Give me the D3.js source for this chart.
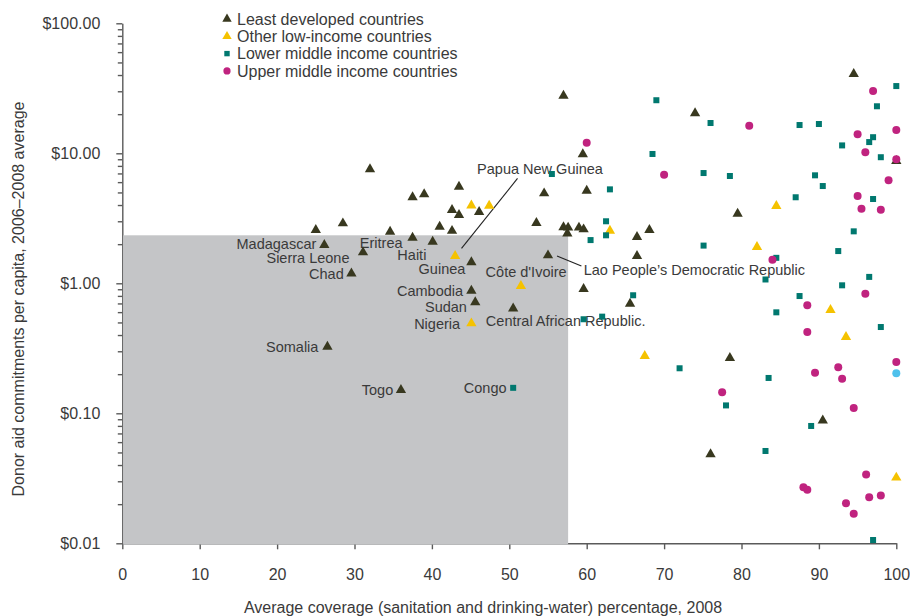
<!DOCTYPE html>
<html>
<head>
<meta charset="utf-8">
<script src="https://cdn.jsdelivr.net/npm/d3@7"></script>
<style>
  body { margin: 0; background: #fff; }
  svg { display: block; }
  text { font-family: "Liberation Sans", Arial, Helvetica, sans-serif; fill: #3a3a3a; }
</style>
</head>
<body>
<svg id="chart" width="910" height="616"></svg>
<script>
// Average sanitation / drinking-water coverage (%, 2008) against
// donor aid commitments per capita (US$, 2006–2008 average).

const seriesNames = [
  "Least developed countries",
  "Other low-income countries",
  "Lower middle income countries",
  "Upper middle income countries"
];

const leastDeveloped = [
  { coverage: 26.1, aid: 1.97, name: "Madagascar" },
  { coverage: 31.1, aid: 1.73, name: "Sierra Leone" },
  { coverage: 29.6, aid: 1.19, name: "Chad" },
  { coverage: 37.5, aid: 2.24, name: "Eritrea" },
  { coverage: 40.1, aid: 2.09, name: "Haiti" },
  { coverage: 45.1, aid: 1.45, name: "Guinea" },
  { coverage: 45.1, aid: 0.877, name: "Cambodia" },
  { coverage: 45.6, aid: 0.714, name: "Sudan" },
  { coverage: 50.5, aid: 0.64, name: "Central African Republic." },
  { coverage: 26.5, aid: 0.325, name: "Somalia" },
  { coverage: 36.0, aid: 0.151, name: "Togo" },
  { coverage: 55.0, aid: 1.64, name: "Lao People’s Democratic Republic" },
  { coverage: 25.0, aid: 2.57 }, { coverage: 28.5, aid: 2.89 },
  { coverage: 32.0, aid: 7.53 }, { coverage: 34.6, aid: 2.49 },
  { coverage: 37.5, aid: 4.59 }, { coverage: 39.0, aid: 4.84 },
  { coverage: 41.0, aid: 2.72 }, { coverage: 42.6, aid: 2.53 },
  { coverage: 42.6, aid: 3.66 }, { coverage: 43.5, aid: 3.35 },
  { coverage: 43.5, aid: 5.53 }, { coverage: 46.1, aid: 3.54 },
  { coverage: 53.5, aid: 2.91 }, { coverage: 54.5, aid: 4.92 },
  { coverage: 57.0, aid: 27.7 }, { coverage: 57.0, aid: 2.70 },
  { coverage: 57.6, aid: 2.68 }, { coverage: 57.5, aid: 2.42 },
  { coverage: 59.0, aid: 2.68 }, { coverage: 59.6, aid: 2.60 },
  { coverage: 59.5, aid: 9.82 }, { coverage: 60.0, aid: 5.16 },
  { coverage: 59.6, aid: 0.904 }, { coverage: 65.6, aid: 0.697 },
  { coverage: 66.5, aid: 2.27 }, { coverage: 68.1, aid: 2.57 },
  { coverage: 66.5, aid: 1.62 }, { coverage: 74.0, aid: 20.3 },
  { coverage: 79.5, aid: 3.43 }, { coverage: 76.0, aid: 0.0484 },
  { coverage: 78.5, aid: 0.266 }, { coverage: 90.5, aid: 0.088 },
  { coverage: 94.5, aid: 40.7 }, { coverage: 100, aid: 8.73 }
];

const otherLowIncome = [
  { coverage: 43.0, aid: 1.62, name: "Papua New Guinea" },
  { coverage: 51.5, aid: 0.953, name: "Côte d'Ivoire" },
  { coverage: 45.1, aid: 0.492, name: "Nigeria" },
  { coverage: 45.1, aid: 3.97 }, { coverage: 47.4, aid: 3.95 },
  { coverage: 63.0, aid: 2.54 }, { coverage: 67.5, aid: 0.276 },
  { coverage: 82.0, aid: 1.90 }, { coverage: 84.5, aid: 3.93 },
  { coverage: 91.5, aid: 0.623 }, { coverage: 93.5, aid: 0.386 },
  { coverage: 100, aid: 0.032 }
];

const lowerMiddleIncome = [
  { coverage: 50.5, aid: 0.157, name: "Congo" },
  { coverage: 55.5, aid: 6.93 }, { coverage: 59.6, aid: 0.529 },
  { coverage: 62.0, aid: 0.554 }, { coverage: 60.5, aid: 2.15 },
  { coverage: 62.5, aid: 3.0 }, { coverage: 62.5, aid: 2.34 },
  { coverage: 63.0, aid: 5.28 }, { coverage: 66.0, aid: 0.809 },
  { coverage: 68.5, aid: 9.88 }, { coverage: 69.0, aid: 25.6 },
  { coverage: 72.0, aid: 0.222 }, { coverage: 75.1, aid: 7.05 },
  { coverage: 75.1, aid: 1.95 }, { coverage: 76.0, aid: 17.1 },
  { coverage: 78.0, aid: 0.115 }, { coverage: 78.5, aid: 6.69 },
  { coverage: 83.1, aid: 1.07 }, { coverage: 83.5, aid: 0.187 },
  { coverage: 83.1, aid: 0.0513 }, { coverage: 84.5, aid: 1.57 },
  { coverage: 84.5, aid: 0.598 }, { coverage: 87.0, aid: 4.59 },
  { coverage: 87.5, aid: 16.5 }, { coverage: 87.5, aid: 0.798 },
  { coverage: 89.0, aid: 0.0799 }, { coverage: 89.5, aid: 6.77 },
  { coverage: 90.0, aid: 16.8 }, { coverage: 90.5, aid: 5.6 },
  { coverage: 92.5, aid: 1.77 }, { coverage: 93.0, aid: 11.5 },
  { coverage: 93.0, aid: 0.965 }, { coverage: 94.5, aid: 2.51 },
  { coverage: 96.5, aid: 12.2 }, { coverage: 96.5, aid: 1.12 },
  { coverage: 97.0, aid: 13.3 }, { coverage: 97.0, aid: 4.45 },
  { coverage: 97.0, aid: 0.0106 }, { coverage: 97.5, aid: 23.0 },
  { coverage: 98.0, aid: 9.33 }, { coverage: 98.0, aid: 0.461 },
  { coverage: 100, aid: 32.9 }
];

const upperMiddleIncome = [
  { coverage: 60.0, aid: 12.05 }, { coverage: 70.0, aid: 6.85 },
  { coverage: 77.5, aid: 0.145 }, { coverage: 81.0, aid: 16.3 },
  { coverage: 84.0, aid: 1.52 }, { coverage: 88.0, aid: 0.027 },
  { coverage: 88.5, aid: 0.0258 }, { coverage: 88.5, aid: 0.677 },
  { coverage: 88.5, aid: 0.422 }, { coverage: 89.5, aid: 0.205 },
  { coverage: 92.5, aid: 0.226 }, { coverage: 93.0, aid: 0.184 },
  { coverage: 93.5, aid: 0.0203 }, { coverage: 94.5, aid: 0.110 },
  { coverage: 94.5, aid: 0.0169 }, { coverage: 95.0, aid: 14.0 },
  { coverage: 95.0, aid: 4.69 }, { coverage: 95.5, aid: 3.75 },
  { coverage: 96.0, aid: 10.2 }, { coverage: 96.0, aid: 0.832 },
  { coverage: 96.1, aid: 0.0338 }, { coverage: 96.5, aid: 0.0226 },
  { coverage: 97.0, aid: 30.2 }, { coverage: 98.0, aid: 0.0233 },
  { coverage: 98.0, aid: 3.68 }, { coverage: 99.0, aid: 6.2 },
  { coverage: 100, aid: 15.1 }, { coverage: 100, aid: 8.99 },
  { coverage: 100, aid: 0.248 }
];

const unclassified = [
  { coverage: 100, aid: 0.203 }
];

// Shaded block: below-threshold coverage and aid
const shadedCoverageMax = 57.6;
const shadedAidMax = 2.34;

const xTickValues = [0, 10, 20, 30, 40, 50, 60, 70, 80, 90, 100];
const yTickValues = [0.01, 0.1, 1, 10, 100];
const yTickLabels = ["$0.01", "$0.10", "$1.00", "$10.00", "$100.00"];

const xTitle = "Average coverage (sanitation and drinking-water) percentage, 2008";
const yTitle = "Donor aid commitments per capita, 2006–2008 average";

// ---- drawing ----
const svg = d3.select("#chart");
const colors = {
  least: "#38381f",
  otherLow: "#f5c200",
  lowerMid: "#00786f",
  upperMid: "#c0237f",
  unclassified: "#4fc1ec",
  shade: "#c4c5c7",
  axis: "#5a5a5a"
};

const x = d3.scaleLinear().domain([0, 100]).range([122.3, 896.3]);
const y = d3.scaleLog().domain([0.01, 100]).range([543.3, 23.3]);

// x axis
const gx = svg.append("g")
  .attr("transform", `translate(0,${y(0.01)})`)
  .call(d3.axisBottom(x).tickValues(xTickValues).tickSize(6).tickSizeOuter(0)
    .tickPadding(19).tickFormat(d => d));

// y axis: minor ticks then labelled major ticks
const minorTicks = y.ticks().filter(v => !yTickValues.some(m => Math.abs(m - v) < 1e-9));
const gyMinor = svg.append("g")
  .attr("transform", `translate(${x(0)},0)`)
  .call(d3.axisLeft(y).tickValues(minorTicks).tickSize(4.5).tickFormat(""));
gyMinor.select(".domain").remove();

const gy = svg.append("g")
  .attr("transform", `translate(${x(0)},0)`)
  .call(d3.axisLeft(y).tickValues(yTickValues).tickSize(6).tickSizeOuter(0)
    .tickPadding(16).tickFormat((d, i) => yTickLabels[i]));

[gx, gy, gyMinor].forEach(g => {
  g.selectAll("path, line").attr("stroke", colors.axis).attr("stroke-width", 1.4);
  g.selectAll("text").attr("font-size", 16).attr("fill", "#3a3a3a")
    .attr("font-family", "\"Liberation Sans\", Arial, sans-serif");
});

// shaded block (drawn over the x axis baseline)
svg.append("rect")
  .attr("x", x(0) + 0.8)
  .attr("y", y(shadedAidMax))
  .attr("width", x(shadedCoverageMax) - x(0) - 0.8)
  .attr("height", y(0.01) - y(shadedAidMax) + 1.2)
  .attr("fill", colors.shade);

// axis titles
svg.append("text")
  .attr("x", 483).attr("y", 613)
  .attr("text-anchor", "middle")
  .attr("font-size", 16)
  .text(xTitle);

svg.append("text")
  .attr("transform", "translate(24,299) rotate(-90)")
  .attr("text-anchor", "middle")
  .attr("font-size", 16)
  .text(yTitle);

// country labels
const labelPlacement = {
  "Madagascar": { anchor: "end", dx: -8, dy: -1.5 },
  "Sierra Leone": { anchor: "end", dx: -13.5, dy: 5.2 },
  "Chad": { anchor: "end", dx: -7.7, dy: 0.5 },
  "Eritrea": { anchor: "end", dx: -10, dy: 5 },
  "Haiti": { anchor: "end", dx: -6.3, dy: 12.6 },
  "Guinea": { anchor: "end", dx: -6, dy: 6.7 },
  "Cambodia": { anchor: "end", dx: -8.3, dy: 0 },
  "Sudan": { anchor: "end", dx: -8.3, dy: 4.4 },
  "Nigeria": { anchor: "end", dx: -11.3, dy: 0 },
  "Somalia": { anchor: "end", dx: -9, dy: 0 },
  "Togo": { anchor: "end", dx: -7.7, dy: 0 },
  "Congo": { anchor: "end", dx: -6.6, dy: 0 },
  "Côte d'Ivoire": { anchor: "start", dx: -35.3, dy: -14.3 },
  "Central African Republic.": { anchor: "start", dx: -27.3, dy: 12.5 },
  "Papua New Guinea": { anchor: "start", dx: 22, dy: -87.7, leader: [6.4, -7.7, 62.4, -77.7] },
  "Lao People’s Democratic Republic": { anchor: "start", dx: 35.7, dy: 14.7, leader: [9, 0.7, 33.4, 10.7] }
};

const named = [...leastDeveloped, ...otherLowIncome, ...lowerMiddleIncome].filter(d => d.name);
const labels = svg.append("g");
named.forEach(d => {
  const p = labelPlacement[d.name];
  const cx = x(d.coverage), cy = y(d.aid);
  if (p.leader) {
    labels.append("line")
      .attr("x1", cx + p.leader[0]).attr("y1", cy + p.leader[1])
      .attr("x2", cx + p.leader[2]).attr("y2", cy + p.leader[3])
      .attr("stroke", "#222").attr("stroke-width", 1.1);
  }
  labels.append("text")
    .attr("x", cx + p.dx).attr("y", cy + p.dy)
    .attr("dy", "0.36em")
    .attr("text-anchor", p.anchor)
    .attr("font-size", 14.5)
    .text(d.name);
});

// markers
const triangle = d3.symbol().type(d3.symbolTriangle).size(46);
const marks = svg.append("g");

function drawTriangles(data, fill) {
  marks.append("g").selectAll("path").data(data).join("path")
    .attr("d", triangle)
    .attr("transform", d => `translate(${x(d.coverage)},${y(d.aid)})`)
    .attr("fill", fill);
}
function drawSquares(data, fill) {
  const s = 6;
  marks.append("g").selectAll("rect").data(data).join("rect")
    .attr("x", d => x(d.coverage) - s / 2)
    .attr("y", d => y(d.aid) - s / 2)
    .attr("width", s).attr("height", s)
    .attr("fill", fill);
}
function drawCircles(data, fill) {
  marks.append("g").selectAll("circle").data(data).join("circle")
    .attr("cx", d => x(d.coverage))
    .attr("cy", d => y(d.aid))
    .attr("r", 4)
    .attr("fill", fill);
}

drawTriangles(leastDeveloped, colors.least);
drawTriangles(otherLowIncome, colors.otherLow);
drawSquares(lowerMiddleIncome, colors.lowerMid);
drawCircles(upperMiddleIncome, colors.upperMid);
drawCircles(unclassified, colors.unclassified);

// legend
const legend = svg.append("g").attr("transform", "translate(227,19)");
const legendRowGap = 17.3;
const legendMarks = [
  g => g.append("path").attr("d", d3.symbol().type(d3.symbolTriangle).size(38)).attr("fill", colors.least),
  g => g.append("path").attr("d", d3.symbol().type(d3.symbolTriangle).size(38)).attr("fill", colors.otherLow),
  g => g.append("rect").attr("x", -2.7).attr("y", -2.7).attr("width", 5.4).attr("height", 5.4).attr("fill", colors.lowerMid),
  g => g.append("circle").attr("r", 3.6).attr("fill", colors.upperMid)
];
seriesNames.forEach((name, i) => {
  const row = legend.append("g").attr("transform", `translate(0,${i * legendRowGap})`);
  legendMarks[i](row);
  row.append("text")
    .attr("x", 10).attr("dy", "0.36em")
    .attr("font-size", 16)
    .text(name);
});
</script>
</body>
</html>
